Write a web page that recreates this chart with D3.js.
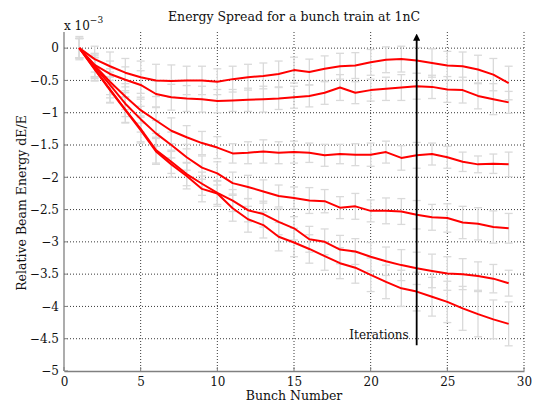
<!DOCTYPE html>
<html>
<head>
<meta charset="utf-8">
<script src="https://cdn.jsdelivr.net/npm/d3@7"></script>
<style>
  body { margin: 0; background: #fff; }
  svg text { font-family: "DejaVu Serif", serif; fill: #111; }
</style>
</head>
<body>
<svg id="chart"></svg>
<script>
// bunch numbers
const bunches = d3.range(1, 30);

// relative energy (x 1e-3) for each iteration
const iter1 = [0, -0.17, -0.28, -0.38, -0.45, -0.5, -0.51, -0.5, -0.5, -0.52, -0.48, -0.45, -0.43, -0.4, -0.34, -0.37, -0.32, -0.28, -0.27, -0.22, -0.18, -0.17, -0.19, -0.23, -0.27, -0.28, -0.33, -0.41, -0.54];
const iter2 = [0, -0.26, -0.4, -0.49, -0.57, -0.71, -0.76, -0.78, -0.79, -0.82, -0.81, -0.8, -0.79, -0.78, -0.76, -0.74, -0.69, -0.61, -0.69, -0.65, -0.63, -0.61, -0.59, -0.6, -0.64, -0.65, -0.74, -0.79, -0.84];
const iter3 = [0, -0.27, -0.52, -0.75, -0.96, -1.12, -1.28, -1.38, -1.47, -1.54, -1.63, -1.62, -1.6, -1.62, -1.61, -1.62, -1.66, -1.64, -1.65, -1.65, -1.61, -1.7, -1.66, -1.64, -1.69, -1.76, -1.8, -1.79, -1.8];
const iter4 = [0, -0.29, -0.57, -0.86, -1.1, -1.32, -1.5, -1.69, -1.85, -1.94, -2.09, -2.15, -2.22, -2.29, -2.32, -2.36, -2.37, -2.47, -2.45, -2.52, -2.52, -2.53, -2.58, -2.62, -2.63, -2.7, -2.72, -2.77, -2.79];
const iter5 = [0, -0.32, -0.64, -0.95, -1.25, -1.58, -1.76, -1.95, -2.1, -2.24, -2.36, -2.51, -2.57, -2.69, -2.79, -2.96, -3.0, -3.12, -3.15, -3.23, -3.3, -3.36, -3.41, -3.45, -3.49, -3.5, -3.53, -3.57, -3.64];
const iter6 = [0, -0.33, -0.65, -0.96, -1.27, -1.6, -1.8, -1.98, -2.18, -2.25, -2.48, -2.65, -2.74, -2.92, -3.01, -3.11, -3.22, -3.33, -3.4, -3.51, -3.62, -3.72, -3.77, -3.85, -3.93, -4.03, -4.12, -4.2, -4.27];

// error bar half widths (x 1e-3)
const err1 = [0.18, 0.2, 0.22, 0.22, 0.25, 0.25, 0.25, 0.22, 0.22, 0.2, 0.2, 0.2, 0.2, 0.2, 0.2, 0.2, 0.2, 0.2, 0.2, 0.2, 0.2, 0.2, 0.2, 0.22, 0.22, 0.22, 0.22, 0.25, 0.26];
const err2 = [0.15, 0.18, 0.2, 0.2, 0.22, 0.2, 0.2, 0.2, 0.2, 0.18, 0.17, 0.18, 0.2, 0.17, 0.17, 0.17, 0.18, 0.2, 0.17, 0.17, 0.18, 0.2, 0.2, 0.18, 0.2, 0.2, 0.2, 0.24, 0.17];
const err3 = [0.15, 0.18, 0.2, 0.2, 0.2, 0.2, 0.2, 0.18, 0.18, 0.17, 0.15, 0.17, 0.18, 0.17, 0.17, 0.15, 0.17, 0.15, 0.17, 0.18, 0.17, 0.19, 0.2, 0.17, 0.17, 0.15, 0.13, 0.15, 0.19];
const err4 = [0.15, 0.18, 0.2, 0.2, 0.2, 0.2, 0.2, 0.2, 0.18, 0.18, 0.17, 0.18, 0.18, 0.17, 0.17, 0.2, 0.18, 0.17, 0.2, 0.17, 0.2, 0.2, 0.22, 0.2, 0.22, 0.25, 0.25, 0.25, 0.23];
const err5 = [0.15, 0.18, 0.2, 0.2, 0.2, 0.2, 0.18, 0.18, 0.18, 0.18, 0.17, 0.18, 0.2, 0.2, 0.18, 0.2, 0.2, 0.22, 0.2, 0.22, 0.22, 0.24, 0.25, 0.26, 0.26, 0.24, 0.22, 0.22, 0.2];
const err6 = [0.15, 0.18, 0.2, 0.2, 0.2, 0.2, 0.2, 0.2, 0.2, 0.2, 0.2, 0.2, 0.2, 0.22, 0.22, 0.22, 0.22, 0.24, 0.24, 0.26, 0.26, 0.28, 0.3, 0.3, 0.32, 0.34, 0.35, 0.3, 0.34];

const seriesVals = [iter1, iter2, iter3, iter4, iter5, iter6];
const seriesErr = [err1, err2, err3, err4, err5, err6];

const xTicks = [0, 5, 10, 15, 20, 25, 30];
const yTicks = [0, -0.5, -1, -1.5, -2, -2.5, -3, -3.5, -4, -4.5, -5];

const arrowX = 23;
const arrowFrom = -4.6;
const arrowTo = 0.17;

const width = 536;
const height = 405;
const margin = { left: 64, right: 12, top: 32, bottom: 34 };

let svg = d3.select("#chart").attr("width", width).attr("height", height);

let scX = d3.scaleLinear().domain([0, 30]).range([margin.left, width - margin.right]);
let scY = d3.scaleLinear().domain([-5, 0.25]).range([height - margin.bottom, margin.top]);

// grid
svg.append("g")
    .selectAll("line")
    .data(xTicks.slice(1))
    .enter()
    .append("line")
    .attr("x1", d => scX(d)).attr("x2", d => scX(d))
    .attr("y1", scY(0.25)).attr("y2", scY(-5))
    .attr("stroke", "#222")
    .attr("stroke-width", 0.9)
    .attr("stroke-dasharray", "1,2");

svg.append("g")
    .selectAll("line")
    .data(yTicks.slice(0, -1))
    .enter()
    .append("line")
    .attr("x1", scX(0)).attr("x2", scX(30))
    .attr("y1", d => scY(d)).attr("y2", d => scY(d))
    .attr("stroke", "#222")
    .attr("stroke-width", 0.9)
    .attr("stroke-dasharray", "1,2");

// error bars
const cap = 4;
seriesVals.forEach((vals, k) => {
    let errs = seriesErr[k];
    let g = svg.append("g").attr("stroke", "#dadada").attr("stroke-width", 1.3).attr("fill", "none");
    bunches.forEach((b, i) => {
        let x = scX(b), y1 = scY(vals[i] + errs[i]), y2 = scY(vals[i] - errs[i]);
        g.append("line").attr("x1", x).attr("x2", x).attr("y1", y1).attr("y2", y2);
        g.append("line").attr("x1", x - cap).attr("x2", x + cap).attr("y1", y1).attr("y2", y1);
        g.append("line").attr("x1", x - cap).attr("x2", x + cap).attr("y1", y2).attr("y2", y2);
    });
});

// red lines
const line = d3.line()
    .x((d, i) => scX(bunches[i]))
    .y(d => scY(d));

seriesVals.forEach(vals => {
    svg.append("path")
        .datum(vals)
        .attr("fill", "none")
        .attr("stroke", "#ff0000")
        .attr("stroke-width", 2)
        .attr("stroke-linejoin", "round")
        .attr("d", line);
});

// axes
let axisX = d3.axisBottom(scX).tickValues(xTicks).tickSize(0).tickPadding(6);
let axisY = d3.axisLeft(scY).tickValues(yTicks).tickSize(0).tickPadding(5)
    .tickFormat(d => d === 0 ? "0" : "\u2212" + Math.abs(d));

let gx = svg.append("g")
    .attr("transform", `translate(0, ${scY(-5)})`)
    .call(axisX);
let gy = svg.append("g")
    .attr("transform", `translate(${scX(0)}, 0)`)
    .call(axisY);

[gx, gy].forEach(g => {
    g.select(".domain").attr("stroke", "#808080").attr("stroke-width", 1.3);
    g.selectAll("text").attr("font-family", "DejaVu Serif").attr("font-size", 12).attr("fill", "#111");
});
gy.select(".domain").attr("d", `M0,${scY(0.25)}V${scY(-5)}`);

// small inner ticks
svg.append("g").selectAll("line").data(yTicks).enter().append("line")
    .attr("x1", scX(0)).attr("x2", scX(0) + 4)
    .attr("y1", d => scY(d)).attr("y2", d => scY(d))
    .attr("stroke", "#808080");
svg.append("g").selectAll("line").data(xTicks).enter().append("line")
    .attr("x1", d => scX(d)).attr("x2", d => scX(d))
    .attr("y1", scY(-5)).attr("y2", scY(-5) - 4)
    .attr("stroke", "#808080");

// arrow
svg.append("defs").append("marker")
    .attr("id", "head")
    .attr("viewBox", "0 0 10 10")
    .attr("refX", 5).attr("refY", 5)
    .attr("markerWidth", 4).attr("markerHeight", 4)
    .attr("orient", "auto")
    .append("path")
    .attr("d", "M0,0 L10,5 L0,10 z")
    .attr("fill", "#000");

svg.append("line")
    .attr("x1", scX(arrowX)).attr("x2", scX(arrowX))
    .attr("y1", scY(arrowFrom)).attr("y2", scY(arrowTo))
    .attr("stroke", "#000")
    .attr("stroke-width", 1.8)
    .attr("marker-end", "url(#head)");

svg.append("text")
    .attr("x", scX(arrowX) - 8).attr("y", scY(arrowFrom) - 6)
    .attr("text-anchor", "end")
    .attr("font-size", 12)
    .text("Iterations");

// titles
svg.append("text")
    .attr("x", 294).attr("y", 21)
    .attr("text-anchor", "middle")
    .attr("font-size", 12.5)
    .text("Energy Spread for a bunch train at 1nC");

svg.append("text")
    .attr("x", 294).attr("y", 400)
    .attr("text-anchor", "middle")
    .attr("font-size", 12.5)
    .text("Bunch Number");

svg.append("text")
    .attr("transform", "translate(26, 203) rotate(-90)")
    .attr("text-anchor", "middle")
    .attr("font-size", 12.5)
    .text("Relative Beam Energy dE/E");

let exp = svg.append("text")
    .attr("x", 64).attr("y", 30)
    .attr("font-size", 12);
exp.append("tspan").text("x 10");
exp.append("tspan").attr("dy", -7).attr("font-size", 9).text("\u22123");
</script>
</body>
</html>
